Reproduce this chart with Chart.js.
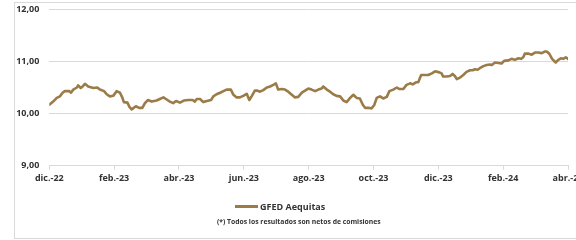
<!DOCTYPE html>
<html>
<head>
<meta charset="utf-8">
<script src="https://cdn.jsdelivr.net/npm/chart.js@4/dist/chart.umd.min.js"></script>
<style>
  html, body { margin: 0; padding: 0; width: 576px; height: 240px; overflow: hidden; background: #fff; }
  #frame { position: absolute; left: 14px; top: 2px; width: 700px; height: 235px; border: 1px solid #d9d9d9; }
  #wrap { position: absolute; left: 0; top: 0; width: 620px; height: 240px; }
</style>
</head>
<body>
<div id="frame"></div>
<div id="wrap"><canvas id="c" width="620" height="240"></canvas></div>
<script>
// Tick labels (every two months, starting dic.-22)
const tickLabels = ["dic.-22", "feb.-23", "abr.-23", "jun.-23", "ago.-23", "oct.-23", "dic.-23", "feb.-24", "abr.-24"];
const seriesName = "GFED Aequitas";
const footnote = "(*) Todos los resultados son netos de comisiones";

// Time position in months since 1 Dec 2022
const months = [
  0.00, 0.12, 0.23, 0.33, 0.41, 0.48, 0.62, 0.67, 0.74, 0.85, 0.89, 0.97, 1.03, 1.10, 1.20, 1.36, 1.48, 1.56, 1.69, 1.77,
  1.87, 1.97, 2.08, 2.18, 2.25, 2.30, 2.41, 2.47, 2.54, 2.67, 2.77, 2.87, 2.95, 3.04, 3.16, 3.31, 3.41, 3.52, 3.62, 3.72,
  3.82, 3.91, 4.03, 4.15, 4.29, 4.42, 4.49, 4.55, 4.65, 4.75, 4.86, 4.99, 5.06, 5.16, 5.27, 5.37, 5.47, 5.60, 5.68, 5.78,
  5.88, 5.98, 6.09, 6.17, 6.24, 6.34, 6.42, 6.50, 6.60, 6.71, 6.81, 6.91, 6.99, 7.06, 7.17, 7.27, 7.37, 7.48, 7.58, 7.68,
  7.79, 7.89, 7.99, 8.09, 8.20, 8.30, 8.40, 8.45, 8.56, 8.66, 8.76, 8.86, 8.97, 9.07, 9.17, 9.28, 9.38, 9.48, 9.58, 9.67,
  9.74, 9.84, 9.94, 10.02, 10.10, 10.20, 10.30, 10.41, 10.49, 10.61, 10.72, 10.80, 10.92, 11.02, 11.13, 11.21, 11.31, 11.38, 11.47, 11.59,
  11.69, 11.80, 11.90, 12.03, 12.10, 12.15, 12.26, 12.36, 12.44, 12.51, 12.57, 12.67, 12.77, 12.87, 12.98, 13.06, 13.13, 13.21, 13.28, 13.39,
  13.49, 13.59, 13.65, 13.75, 13.85, 13.95, 14.03, 14.16, 14.26, 14.36, 14.47, 14.55, 14.62, 14.67, 14.77, 14.88, 14.98, 15.08, 15.19, 15.29,
  15.34, 15.42, 15.51, 15.62, 15.70, 15.78, 15.85, 15.93, 16.00
];

// GFED Aequitas values
const values = [
  10.17, 10.23, 10.30, 10.33, 10.40, 10.43, 10.43, 10.40, 10.46, 10.50, 10.54, 10.49, 10.52, 10.57, 10.52, 10.49, 10.50, 10.46, 10.43, 10.37,
  10.33, 10.34, 10.43, 10.40, 10.31, 10.22, 10.21, 10.13, 10.08, 10.14, 10.11, 10.11, 10.20, 10.26, 10.23, 10.25, 10.28, 10.31, 10.27, 10.23,
  10.20, 10.24, 10.21, 10.25, 10.26, 10.26, 10.23, 10.28, 10.28, 10.22, 10.24, 10.26, 10.33, 10.37, 10.40, 10.43, 10.46, 10.46, 10.36, 10.31,
  10.31, 10.34, 10.38, 10.26, 10.33, 10.44, 10.44, 10.42, 10.45, 10.50, 10.52, 10.55, 10.58, 10.46, 10.47, 10.46, 10.42, 10.36, 10.31, 10.32,
  10.40, 10.44, 10.48, 10.46, 10.43, 10.46, 10.48, 10.52, 10.46, 10.42, 10.37, 10.34, 10.33, 10.25, 10.22, 10.30, 10.36, 10.30, 10.29, 10.17,
  10.11, 10.11, 10.10, 10.16, 10.30, 10.33, 10.29, 10.32, 10.43, 10.46, 10.50, 10.47, 10.47, 10.55, 10.58, 10.56, 10.60, 10.60, 10.74, 10.74,
  10.74, 10.77, 10.81, 10.79, 10.77, 10.71, 10.71, 10.72, 10.76, 10.72, 10.66, 10.69, 10.74, 10.80, 10.83, 10.83, 10.85, 10.84, 10.87, 10.91,
  10.93, 10.94, 10.93, 10.98, 10.97, 10.96, 11.01, 11.02, 11.05, 11.03, 11.06, 11.05, 11.08, 11.15, 11.15, 11.13, 11.17, 11.17, 11.16, 11.19,
  11.19, 11.15, 11.05, 10.98, 11.03, 11.06, 11.05, 11.08, 11.05
];

const yTicks = [9, 10, 11, 12];

const lineColor = "#9b7b47";
const textColor = "#333333";
const gridColor = "#d9d9d9";
const fontFamily = "'Open Sans', 'Liberation Sans', sans-serif";

const points = months.map((m, i) => ({ x: m, y: values[i] }));

// Legend and footnote drawn beneath the axis, in the reference's positions
const legendNote = {
  id: "legendNote",
  afterDraw(chart) {
    const ctx = chart.ctx;
    const ds = chart.data.datasets[0];
    ctx.save();
    ctx.strokeStyle = ds.borderColor;
    ctx.lineWidth = 3;
    ctx.lineCap = "butt";
    ctx.beginPath();
    ctx.moveTo(235, 206.5);
    ctx.lineTo(258, 206.5);
    ctx.stroke();
    ctx.fillStyle = textColor;
    ctx.textBaseline = "middle";
    ctx.textAlign = "left";
    ctx.font = "bold 9px " + fontFamily;
    ctx.fillText(ds.label, 260, 207);
    ctx.font = "bold 6.8px " + fontFamily;
    ctx.fillText(footnote, 217, 222);
    ctx.restore();
  }
};

new Chart(document.getElementById("c"), {
  type: "line",
  data: {
    datasets: [{
      label: seriesName,
      data: points,
      borderColor: lineColor,
      backgroundColor: lineColor,
      borderWidth: 2.6,
      pointRadius: 0,
      tension: 0,
      borderJoinStyle: "round",
      borderCapStyle: "round"
    }]
  },
  options: {
    responsive: false,
    animation: false,
    events: [],
    layout: { padding: { left: 16, right: 52, top: 9.3, bottom: 53.5 } },
    scales: {
      x: {
        type: "linear",
        min: 0,
        max: 16,
        afterBuildTicks: (scale) => { scale.ticks = tickLabels.map((_, i) => ({ value: i * 2 })); },
        ticks: {
          autoSkip: false,
          maxRotation: 0,
          padding: 3,
          color: textColor,
          font: { family: fontFamily, size: 9, weight: "bold" },
          callback: (v) => tickLabels[Math.round(v / 2)]
        },
        grid: { drawOnChartArea: false, drawTicks: true, tickLength: 4, color: gridColor, lineWidth: 1 },
        border: { display: true, color: gridColor, width: 1 }
      },
      y: {
        min: 9,
        max: 12,
        afterBuildTicks: (scale) => { scale.ticks = yTicks.map(v => ({ value: v })); },
        afterFit: (scale) => { scale.width = 33.3; scale.paddingTop = 0; scale.paddingBottom = 0; },
        ticks: {
          padding: 10,
          color: textColor,
          font: { family: fontFamily, size: 9, weight: "bold" },
          callback: (v) => v.toFixed(2).replace(".", ",")
        },
        grid: { drawTicks: false, color: gridColor, lineWidth: 1 },
        border: { display: false }
      }
    },
    plugins: {
      legend: { display: false },
      tooltip: { enabled: false }
    }
  },
  plugins: [legendNote]
});
</script>
</body>
</html>
